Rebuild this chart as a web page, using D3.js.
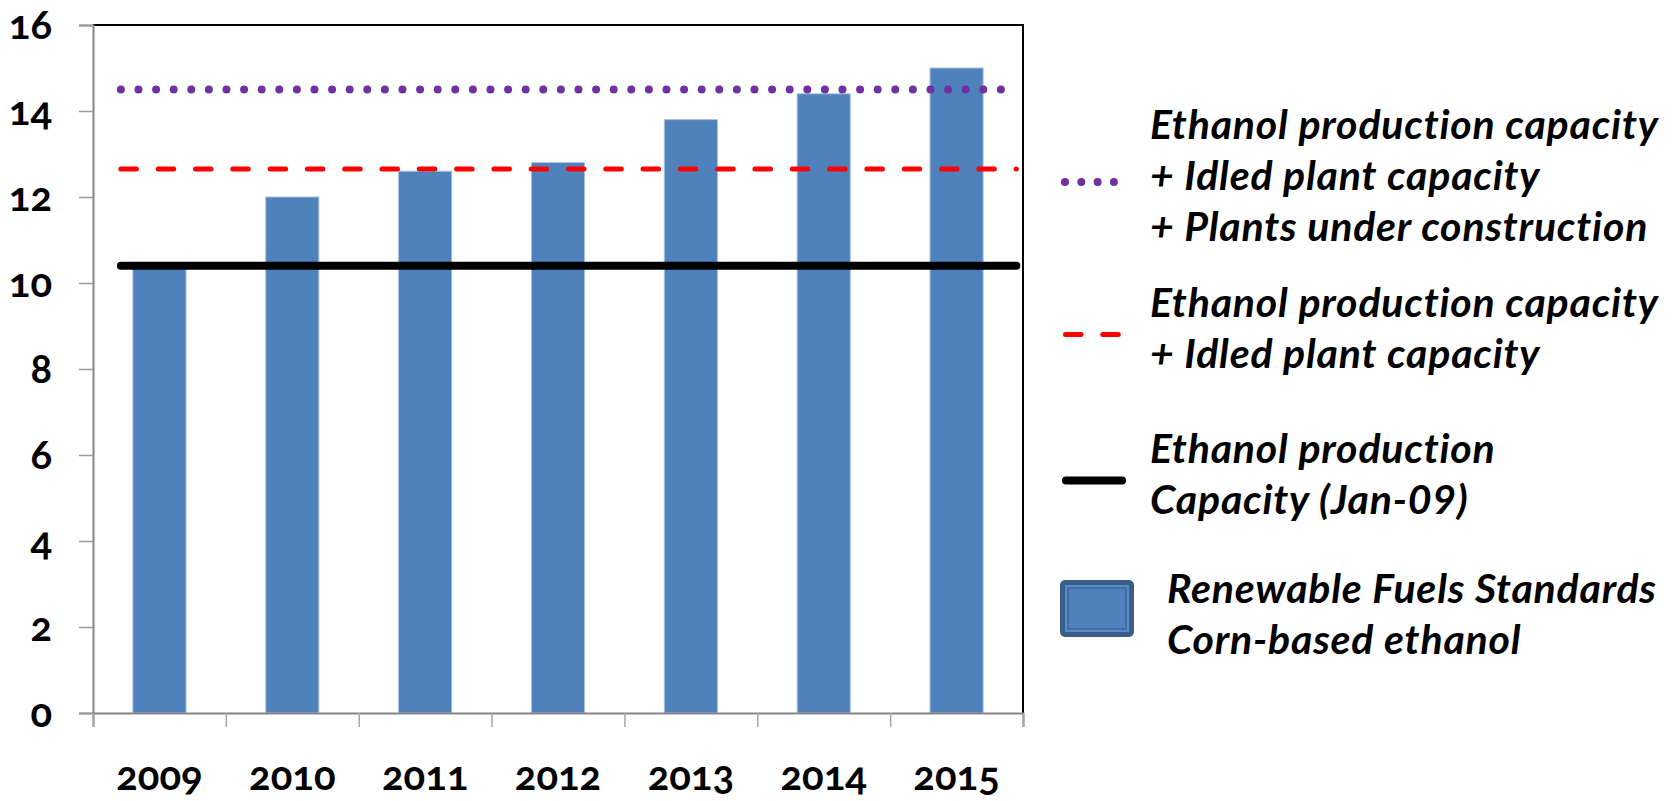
<html>
<head>
<style>
body { margin: 0; background: #fff; }
text { font-family: Lato, "Noto Sans", sans-serif; }
.axis text { font-weight: bold; font-size: 40px; fill: #000; font-variant-numeric: oldstyle-nums; }
.legend text { font-style: italic; font-weight: bold; font-size: 41px; letter-spacing: 0.8px; fill: #000; }
</style>
</head>
<body>
<div id="vis"></div>
<script src="https://cdn.jsdelivr.net/npm/d3@7"></script>
<script>
// chart data
var years = ["2009", "2010", "2011", "2012", "2013", "2014", "2015"];
var rfsCorn = [10.35, 12.0, 12.6, 12.8, 13.8, 14.4, 15.0];   // billion gallons
var capJan09 = 10.4;
var capIdled = 12.65;
var capIdledConstruction = 14.5;
var yTicks = [0, 2, 4, 6, 8, 10, 12, 14, 16];
// horizontal lines run between these category positions (index units)
var lineSpan = [-0.29, 6.45];

var legendItems = [
	{ key: "dot", lines: ["Ethanol production capacity", "+ Idled plant capacity", "+ Plants under construction"] },
	{ key: "dash", lines: ["Ethanol production capacity", "+ Idled plant capacity"] },
	{ key: "solid", lines: ["Ethanol production", "Capacity (Jan-09)"] },
	{ key: "bar", lines: ["Renewable Fuels Standards", "Corn-based ethanol"] }
];

var W = 1672, H = 801;
var plot = { left: 93, right: 1023, top: 25, bottom: 713 };

var svg = d3.select("#vis").append("svg")
		.attr("width", W)
		.attr("height", H);

var x = d3.scaleBand()
		.domain(years)
		.range([plot.left, plot.right])
		.paddingInner(0.6)
		.paddingOuter(0.3);

// same axis, but in index units, for boundaries and the flat lines
var xIdx = d3.scaleLinear()
		.domain([-0.5, years.length - 0.5])
		.range([plot.left, plot.right]);

var y = d3.scaleLinear()
		.domain([0, 16])
		.range([plot.bottom, plot.top]);

// plot border (top and right are black)
svg.append("path")
	.attr("d", "M" + plot.left + "," + y(16) + "H" + plot.right + "V" + y(0))
	.attr("fill", "none")
	.attr("stroke", "#000")
	.attr("stroke-width", 2);

// bars
svg.selectAll(".bar")
		.data(rfsCorn)
	.enter().append("rect")
		.attr("class", "bar")
		.attr("x", function(d, i) { return x(years[i]); })
		.attr("width", x.bandwidth())
		.attr("y", function(d) { return y(d); })
		.attr("height", function(d) { return y(0) - y(d); })
		.attr("fill", "#4f81bd")
		.attr("stroke", "#a9c1e0")
		.attr("stroke-width", 1);

// capacity lines
var flatLine = function(val) {
	return "M" + xIdx(lineSpan[0]) + "," + y(val) + "H" + xIdx(lineSpan[1]);
};

svg.append("path")
	.attr("d", flatLine(capIdledConstruction))
	.attr("stroke", "#7030a0")
	.attr("stroke-width", 8)
	.attr("stroke-linecap", "round")
	.attr("stroke-dasharray", "0 17.6");

svg.append("path")
	.attr("d", flatLine(capIdled))
	.attr("stroke", "#ff0000")
	.attr("stroke-width", 5)
	.attr("stroke-linecap", "round")
	.attr("stroke-dasharray", "15.5 21.8");

svg.append("path")
	.attr("d", flatLine(capJan09))
	.attr("stroke", "#000")
	.attr("stroke-width", 8)
	.attr("stroke-linecap", "round");

// y axis
var yAxis = svg.append("g")
		.attr("class", "axis")
		.attr("transform", "translate(" + plot.left + ",0)")
		.call(d3.axisLeft(y).tickValues(yTicks).tickSize(14).tickPadding(27));
yAxis.select(".domain").attr("stroke", "#858585").attr("stroke-width", 2);
yAxis.selectAll(".tick line").attr("stroke", "#9a9a9a").attr("stroke-width", 1.5);
yAxis.selectAll(".tick text").attr("dy", "0.33em");

// x axis: boundary ticks
var xTicks = svg.append("g")
		.attr("transform", "translate(0," + plot.bottom + ")")
		.call(d3.axisBottom(xIdx)
			.tickValues(d3.range(-0.5, years.length, 1))
			.tickSize(14)
			.tickFormat(""));
xTicks.select(".domain").attr("stroke", "#858585").attr("stroke-width", 2);
xTicks.selectAll(".tick line").attr("stroke", "#a6a6a6").attr("stroke-width", 1.5);

// x axis: year labels
var xLabels = svg.append("g")
		.attr("class", "axis")
		.attr("transform", "translate(0," + plot.bottom + ")")
		.call(d3.axisBottom(x).tickSize(0).tickPadding(49));
xLabels.select(".domain").remove();

// legend
var legendTop = [139, 317, 463, 603];
var legendLine = 51;
var legend = svg.append("g").attr("class", "legend");

legendItems.forEach(function(item, i) {
	var base = legendTop[i];
	var tx = item.key === "bar" ? 1167 : 1150;
	var g = legend.append("g");
	var my = base + (item.lines.length - 1) * legendLine / 2 - 8;

	if (item.key === "dot") {
		g.append("path")
			.attr("d", "M1065," + my + "H1116")
			.attr("stroke", "#7030a0").attr("stroke-width", 8)
			.attr("stroke-linecap", "round").attr("stroke-dasharray", "0 16.3");
	} else if (item.key === "dash") {
		g.append("path")
			.attr("d", "M1065.5," + my + "H1119")
			.attr("stroke", "#ff0000").attr("stroke-width", 5)
			.attr("stroke-linecap", "round").attr("stroke-dasharray", "15.5 21.8");
	} else if (item.key === "solid") {
		g.append("path")
			.attr("d", "M1066," + my + "H1122")
			.attr("stroke", "#000").attr("stroke-width", 8)
			.attr("stroke-linecap", "round");
	} else {
		g.append("rect").attr("x", 1060).attr("y", 580).attr("width", 74).attr("height", 57)
			.attr("rx", 5).attr("fill", "#3b5d8c");
		g.append("rect").attr("x", 1065).attr("y", 585).attr("width", 64).attr("height", 47)
			.attr("fill", "#5a8ac4");
		g.append("rect").attr("x", 1068).attr("y", 588).attr("width", 58).attr("height", 41)
			.attr("fill", "#4f81bd").attr("stroke", "#3f659c").attr("stroke-width", 1.5);
	}

	g.selectAll("text")
			.data(item.lines)
		.enter().append("text")
			.attr("x", tx)
			.attr("y", function(d, j) { return base + j * legendLine; })
			.text(function(d) { return d; });
});
</script>
</body>
</html>
